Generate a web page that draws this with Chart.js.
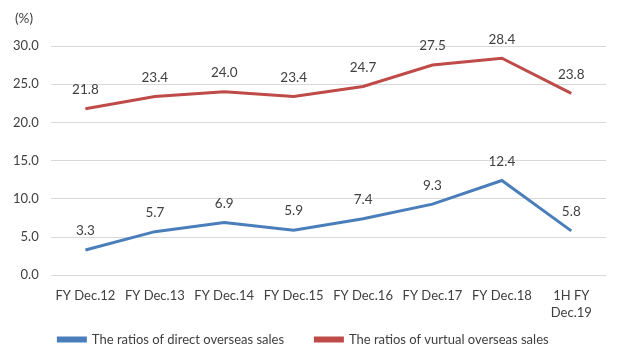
<!DOCTYPE html>
<html>
<head>
<meta charset="utf-8">
<script src="https://cdn.jsdelivr.net/npm/chart.js@4"></script>
<style>
  html, body { margin: 0; padding: 0; background: #fff; }
  #wrap { width: 621px; height: 364px; }
</style>
</head>
<body>
<div id="wrap"><canvas id="myChart"></canvas></div>
<script>
// datos
const categories = ['FY Dec.12', 'FY Dec.13', 'FY Dec.14', 'FY Dec.15', 'FY Dec.16', 'FY Dec.17', 'FY Dec.18', ['1H FY', 'Dec.19']];
const directSales = [3.3, 5.7, 6.9, 5.9, 7.4, 9.3, 12.4, 5.8];
const virtualSales = [21.8, 23.4, 24.0, 23.4, 24.7, 27.5, 28.4, 23.8];

const fontFam = 'Lato, "Open Sans", sans-serif';
const textColor = '#404040';

// etiquetas de valores encima de cada punto
const valueLabels = {
  id: 'valueLabels',
  afterDatasetsDraw(chart) {
    const ctx = chart.ctx;
    ctx.save();
    ctx.font = '13.5px ' + fontFam;
    ctx.fillStyle = textColor;
    ctx.textAlign = 'center';
    ctx.textBaseline = 'middle';
    chart.data.datasets.forEach((ds, i) => {
      chart.getDatasetMeta(i).data.forEach((pt, j) => {
        ctx.fillText(ds.data[j].toFixed(1), pt.x, pt.y - 19);
      });
    });
    // unidad arriba a la izquierda
    ctx.fillText('(%)', 24, 19);
    ctx.restore();
  }
};

const ctx = document.getElementById('myChart').getContext('2d');
const myChart = new Chart(ctx, {
  type: 'line',
  data: {
    labels: categories,
    datasets: [{
      label: 'The ratios of direct overseas sales',
      data: directSales,
      borderColor: '#4a7ebb',
      backgroundColor: '#4a7ebb',
      borderWidth: 3,
      pointRadius: 0,
      tension: 0,
      fill: false
    }, {
      label: 'The ratios of vurtual overseas sales',
      data: virtualSales,
      borderColor: '#be4b48',
      backgroundColor: '#be4b48',
      borderWidth: 3,
      pointRadius: 0,
      tension: 0,
      fill: false
    }]
  },
  options: {
    responsive: true,
    maintainAspectRatio: false,
    animation: false,
    layout: { padding: { top: 46, right: 15, left: 1, bottom: 8 } },
    plugins: {
      legend: {
        position: 'bottom',
        labels: {
          boxWidth: 27,
          boxHeight: 3,
          padding: 8,
          color: textColor,
          font: { size: 13, family: fontFam },
          // más espacio entre las dos entradas
          generateLabels(chart) {
            const items = Chart.defaults.plugins.legend.labels.generateLabels(chart);
            items[0].text = items[0].text + '       ';
            return items;
          }
        }
      },
      tooltip: { enabled: false }
    },
    scales: {
      x: {
        offset: true,
        grid: { display: false },
        border: { display: false },
        ticks: { color: textColor, font: { size: 13, family: fontFam, lineHeight: 1.3 }, maxRotation: 0, padding: 4 }
      },
      y: {
        min: 0,
        max: 30,
        grid: { color: '#d9d9d9', drawTicks: false },
        border: { display: false },
        ticks: {
          stepSize: 5,
          padding: 12,
          color: textColor,
          font: { size: 13, family: fontFam },
          callback: v => v.toFixed(1)
        }
      }
    }
  },
  plugins: [valueLabels]
});
</script>
</body>
</html>
